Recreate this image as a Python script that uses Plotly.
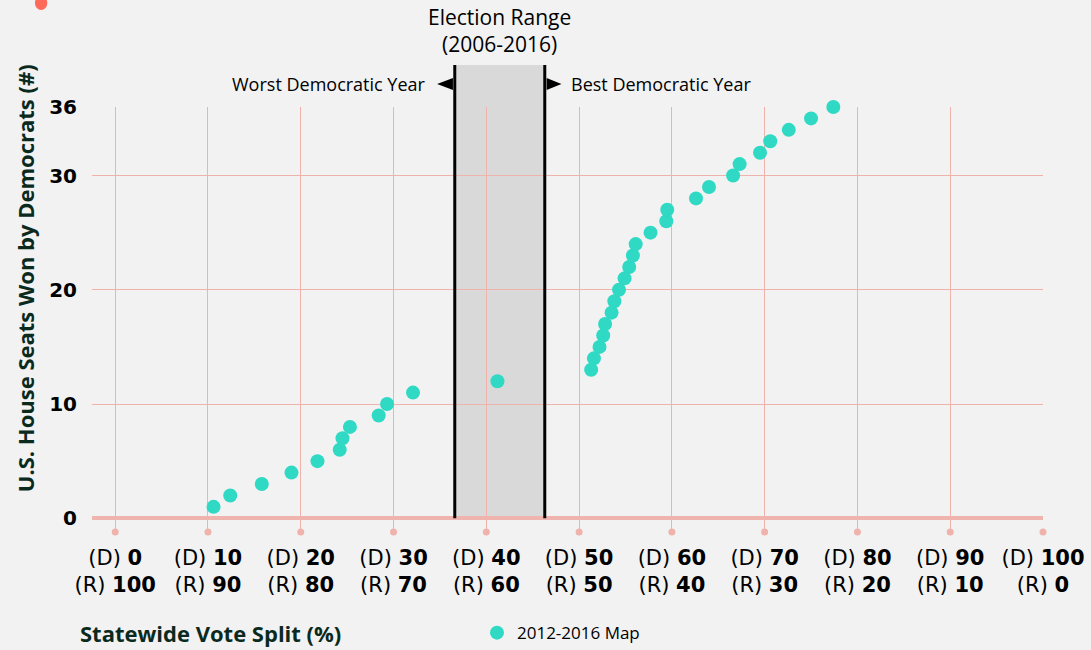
import plotly.graph_objects as go

# Statewide Democratic vote share (%) vs. seats won by Democrats
vote_share = [10.6, 12.4, 15.8, 19.0, 21.8, 24.2, 24.5, 25.3, 28.4, 29.3, 32.1, 41.2,
              51.3, 51.6, 52.2, 52.6, 52.8, 53.5, 53.8, 54.3, 54.9, 55.4, 55.8, 56.1,
              57.7, 59.4, 59.5, 62.6, 64.0, 66.6, 67.3, 69.5, 70.6, 72.6, 75.0, 77.4]
seats = list(range(1, 37))

x_ticks = [0, 10, 20, 30, 40, 50, 60, 70, 80, 90, 100]
x_ticktext = ["(D) <b>%d</b><br>(R) <b>%d</b>" % (d, 100 - d) for d in x_ticks]
y_ticks = [0, 10, 20, 30, 36]

election_lo, election_hi = 36.6, 46.3  # election range (2006-2016)

BG = "#f2f2f2"
TEAL = "#2fd9c4"
GRID = "#f0b3ac"
DARK = "#0b2a1e"
FONT = "Open Sans"
TICKFONT = "DejaVu Sans"

fig = go.Figure()

# little dots under each vertical gridline
fig.add_trace(go.Scatter(x=x_ticks, y=[-1.2] * len(x_ticks), mode="markers",
                         marker=dict(color=GRID, size=7), cliponaxis=False,
                         showlegend=False, hoverinfo="skip"))

fig.add_trace(go.Scatter(x=vote_share, y=seats, mode="markers", name="2012-2016 Map",
                         marker=dict(color=TEAL, size=14), cliponaxis=False))

# y position of data 0 in paper coords
y_min, y_max = -1.2, 36
y0_paper = (0 - y_min) / (y_max - y_min)

shapes = [
    dict(type="rect", xref="x", yref="paper", x0=election_lo, x1=election_hi,
         y0=y0_paper, y1=1.099, fillcolor="#d9d9d9", line_width=0, layer="below"),
    dict(type="line", xref="x", yref="paper", x0=election_lo, x1=election_lo,
         y0=y0_paper, y1=1.099, line=dict(color="black", width=3)),
    dict(type="line", xref="x", yref="paper", x0=election_hi, x1=election_hi,
         y0=y0_paper, y1=1.099, line=dict(color="black", width=3)),
    # arrow heads
    dict(type="path", xref="x", yref="paper",
         path="M 34.7,1.054 L 36.4,1.068 L 36.4,1.040 Z",
         fillcolor="black", line_width=0),
    dict(type="path", xref="x", yref="paper",
         path="M 48.1,1.054 L 46.5,1.068 L 46.5,1.040 Z",
         fillcolor="black", line_width=0),
    # bit of logo peeking in at top-left
    dict(type="circle", xref="paper", yref="paper", x0=-0.060, x1=-0.047,
         y0=1.228, y1=1.262, fillcolor="#ff6a5a", line_width=0),
]

annotations = [
    dict(text="Election Range<br>(2006-2016)", xref="x", yref="paper",
         x=(election_lo + election_hi) / 2, y=1.25, yanchor="top",
         showarrow=False, font=dict(family=FONT, size=21, color="black")),
    dict(text="Worst Democratic Year", xref="x", yref="paper", x=33.7, y=1.054,
         xanchor="right", yanchor="middle", showarrow=False,
         font=dict(family=FONT, size=18, color="black")),
    dict(text="Best Democratic Year", xref="x", yref="paper", x=48.9, y=1.054,
         xanchor="left", yanchor="middle", showarrow=False,
         font=dict(family=FONT, size=18, color="black")),
    dict(text="<b>U.S. House Seats Won by Democrats (#)</b>", xref="paper", yref="paper",
         x=-0.0701, y=0.598, xanchor="center", yanchor="middle", textangle=-90,
         showarrow=False, font=dict(family=FONT, size=22, color=DARK, weight=800)),
    dict(text="<b>Statewide Vote Split (%)</b>", xref="paper", yref="paper",
         x=-0.0144, y=-0.238, xanchor="left", yanchor="middle", showarrow=False,
         font=dict(family=FONT, size=22, color=DARK, weight=800)),
]

fig.update_layout({"width": 1091,
                   "height": 650,
                   "paper_bgcolor": BG,
                   "plot_bgcolor": BG,
                   "margin": {"l": 92, "r": 48, "t": 107, "b": 118},
                   "font": {"family": FONT, "color": "black"},
                   "xaxis": {"range": [-2.5, 100], "tickvals": x_ticks, "ticktext": x_ticktext,
                             "showgrid": True, "gridcolor": GRID, "gridwidth": 1,
                             "zeroline": False, "showline": False, "ticks": "",
                             "ticklabelstandoff": 11, "automargin": False,
                             "tickfont": {"family": TICKFONT, "size": 21, "color": "black"}},
                   "yaxis": {"range": [y_min, y_max], "tickvals": y_ticks,
                             "ticktext": ["<b>%d</b>" % v for v in y_ticks],
                             "showgrid": True, "gridcolor": GRID, "gridwidth": 1,
                             "zeroline": True, "zerolinecolor": "#f0b4ae", "zerolinewidth": 4,
                             "showline": False, "ticks": "", "ticklabelstandoff": 14,
                             "automargin": False,
                             "tickfont": {"family": TICKFONT, "size": 20, "color": "black"}},
                   "legend": {"orientation": "h", "xref": "container", "yref": "container",
                              "x": 0.4372, "y": 0.026, "yanchor": "middle", "xanchor": "left",
                              "bgcolor": "rgba(0,0,0,0)",
                              "font": {"family": FONT, "size": 17, "color": "black"}},
                   "shapes": shapes,
                   "annotations": annotations,
                   "showlegend": True,
                   })

# drop the browser's default body margin so the chart sits at the window corner
fig.write_html("out.html", config={"displayModeBar": False},
               post_script="document.body.style.margin = '0';")
